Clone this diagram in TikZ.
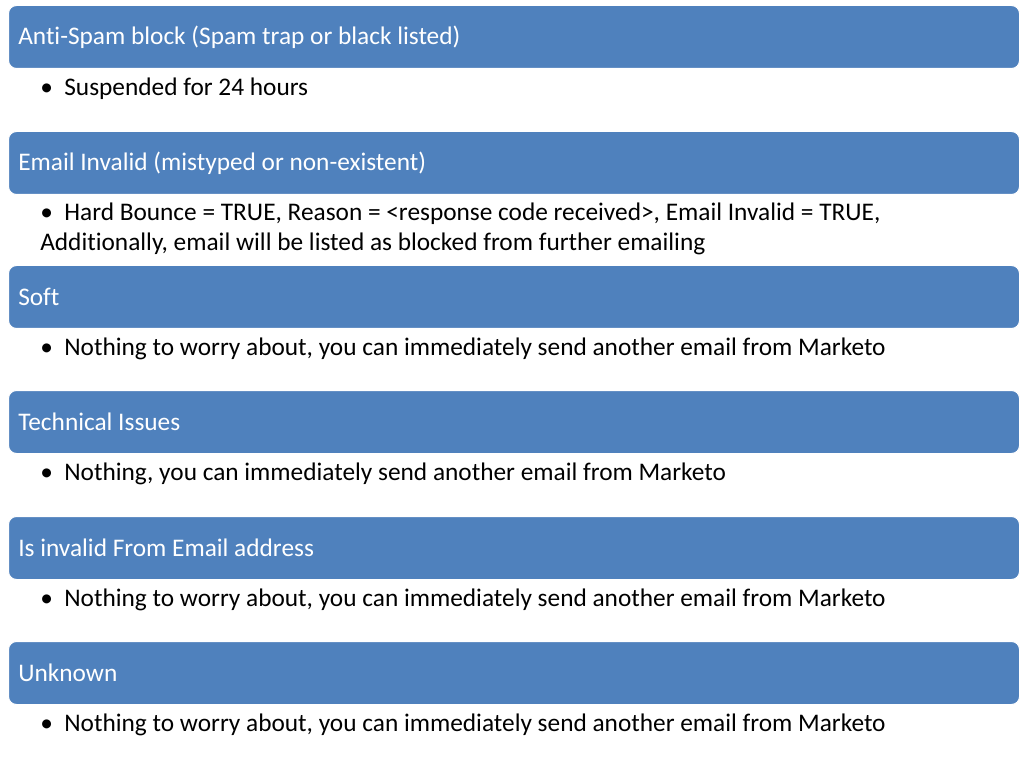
\documentclass[tikz,border=0pt]{standalone}
\usepackage{fontspec}
\setmainfont{Carlito}[Ligatures=NoCommon]
\definecolor{barblue}{HTML}{4F81BD}
\begin{document}
\begin{tikzpicture}[x=0.75pt,y=-0.75pt,
  bar/.style={fill=barblue,draw=white,line width=0.75pt,rounded corners=6pt,minimum width=1011*0.75pt,minimum height=63*0.75pt,anchor=north west,inner sep=0pt},
  bartext/.style={text=white,font=\fontsize{19}{23}\selectfont,anchor=west,inner sep=0pt},
  item/.style={font=\fontsize{19}{22.5}\selectfont,anchor=west,align=left,inner sep=0pt}]
\useasboundingbox (0,0) rectangle (1024,766);
\foreach \n/\y/\t in {a/5/{Anti-Spam block (Spam trap or black listed)},
  b/131/{Email Invalid (mistyped or non-existent)},
  c/265/{Soft},
  d/390/{Technical Issues},
  e/516/{Is invalid From Email address},
  f/641/{Unknown}}{
  \node[bar] (\n) at (8,\y) {};
  \node[bartext] (\n t) at (18,\y+32) {\t};
}
\node[item] (ia) at (40,89) {\textbullet\ \ Suspended for 24 hours};
\node[item] (ib) at (40,229) {\textbullet\ \ Hard Bounce = TRUE, Reason = <response code received>, Email Invalid = TRUE,\\Additionally, email will be listed as blocked from further emailing};
\node[item] (ic) at (40,349) {\textbullet\ \ Nothing to worry about, you can immediately send another email from Marketo};
\node[item] (id) at (40,474) {\textbullet\ \ Nothing, you can immediately send another email from Marketo};
\node[item] (ie) at (40,600) {\textbullet\ \ Nothing to worry about, you can immediately send another email from Marketo};
\node[item] (if) at (40,725) {\textbullet\ \ Nothing to worry about, you can immediately send another email from Marketo};
\end{tikzpicture}
\end{document}
